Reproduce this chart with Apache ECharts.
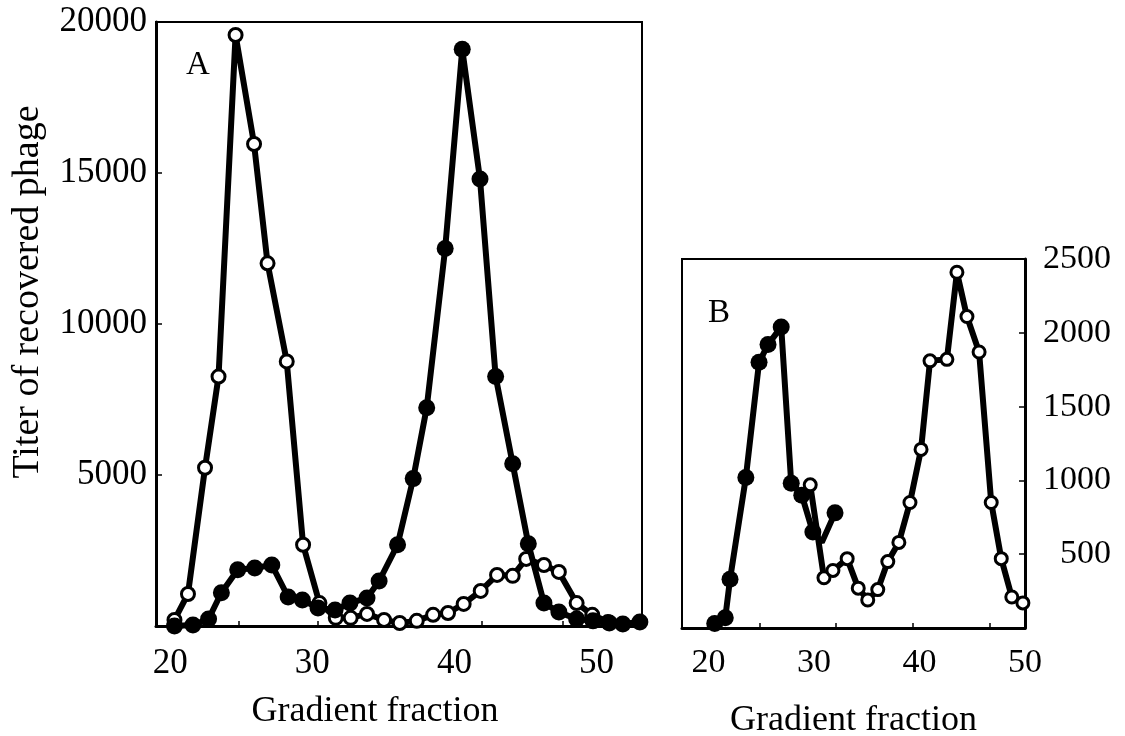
<!DOCTYPE html>
<html>
<head>
<meta charset="utf-8">
<script src="https://cdn.jsdelivr.net/npm/echarts@6/dist/echarts.min.js"></script>
<style>
html, body { margin: 0; padding: 0; background: #fff; }
#chart { width: 1125px; height: 736px; }
</style>
</head>
<body>
<div id="chart"></div>
<script>
// panel A: gradient fraction vs titer (open / filled circles)
const fracAOpen = [20.3, 21.25, 22.45, 23.4, 24.6, 25.9, 26.85, 28.2, 29.35, 30.5, 31.65, 32.7, 33.85, 35.05,
  36.15, 37.35, 38.5, 39.55, 40.65, 41.85, 43.0, 44.1, 45.05, 46.3, 47.35, 48.6, 49.7, 50.8];
const titerAOpen = [200, 1060, 5240, 8260, 19570, 15960, 12010, 8760, 2690, 760, 270, 270, 400, 200,
  100, 170, 370, 430, 730, 1160, 1690, 1660, 2220, 2020, 1790, 760, 370, 130];
const fracAFilled = [20.3, 21.6, 22.7, 23.6, 24.75, 25.95, 27.15, 28.3, 29.3, 30.4, 31.6, 32.65, 33.85, 34.7,
  36.0, 37.1, 38.05, 39.35, 40.55, 41.8, 42.9, 44.1, 45.2, 46.3, 47.35, 48.6, 49.75, 50.9, 51.85, 53.05];
const titerAFilled = [0, 30, 230, 1100, 1860, 1920, 2020, 960, 860, 600, 530, 760, 930, 1490,
  2690, 4880, 7230, 12500, 19100, 14800, 8260, 5370, 2720, 760, 460, 230, 170, 100, 70, 130];

// panel B
const fracBFilled = [20.6, 21.6, 22.05, 23.55, 24.8, 25.65, 26.9, 27.85, 28.85, 29.9, 30.75, 32.0];
const titerBFilled = [30, 70, 330, 1020, 1800, 1920, 2040, 980, 900, 650, 580, 780];
const bendB = 30.75; // corner of the filled line that has no marker
const fracBOpen = [29.65, 30.95, 31.8, 33.15, 34.2, 35.1, 36.05, 37.0, 38.05, 39.1, 40.15, 41.0, 42.6,
  43.55, 44.5, 45.65, 46.8, 47.75, 48.75, 49.8];
const titerBOpen = [970, 340, 390, 470, 270, 190, 260, 450, 580, 850, 1210, 1810, 1820,
  2410, 2110, 1870, 850, 470, 210, 170];

// axis labels / ticks
const xLabels = [20, 30, 40, 50];
const xTicksA = [24.8, 30.4, 36.2, 41.9, 47.6];
const xTicksB = [24.9, 32.1, 39.4, 46.7];
const yLabelsA = [5000, 10000, 15000, 20000];
const yLabelsB = [500, 1000, 1500, 2000, 2500];

const font = 'Liberation Serif';
const plain = v => String(v);

function pairs(xs, ys) {
  return xs.map((x, i) => [x, ys[i]]);
}

function openSeries(name, idx, xs, ys, size) {
  return {
    name: name, type: 'line', xAxisIndex: idx, yAxisIndex: idx,
    data: pairs(xs, ys), symbol: 'circle', symbolSize: size, showAllSymbol: true, clip: false,
    lineStyle: { color: '#000', width: 6 },
    itemStyle: { color: '#fff', borderColor: '#000', borderWidth: 3 },
    z: 2
  };
}

function filledSeries(name, idx, xs, ys, size) {
  return {
    name: name, type: 'line', xAxisIndex: idx, yAxisIndex: idx,
    data: pairs(xs, ys).map(p => p[0] === bendB && idx === 1 ? { value: p, symbol: 'none' } : p),
    symbol: 'circle', symbolSize: size, showAllSymbol: true, clip: false,
    lineStyle: { color: '#000', width: 6 },
    itemStyle: { color: '#000' },
    z: 3
  };
}

const chart = echarts.init(document.getElementById('chart'), null, { renderer: 'canvas' });

const option = {
  animation: false,
  backgroundColor: '#fff',
  title: [
    { text: 'A', left: 181, top: 44, textStyle: { fontFamily: font, fontWeight: 'normal', fontSize: 33, color: '#000' } },
    { text: 'B', left: 703, top: 292, textStyle: { fontFamily: font, fontWeight: 'normal', fontSize: 33, color: '#000' } }
  ],
  grid: [
    { left: 156, top: 22, width: 486, height: 604, show: true, borderColor: '#000', borderWidth: 2,
      containLabel: false, outerBoundsMode: 'none' },
    { left: 682, top: 259, width: 343, height: 369, show: true, borderColor: '#000', borderWidth: 2,
      containLabel: false, outerBoundsMode: 'none' }
  ],
  xAxis: [
    {
      type: 'value', gridIndex: 0, min: 19.0, max: 53.2,
      name: 'Gradient fraction', nameLocation: 'middle', nameGap: 68,
      nameTextStyle: { fontFamily: font, fontSize: 36, color: '#000', padding: [0, 48, 0, 0] },
      axisLine: { show: true, lineStyle: { color: '#000', width: 3 } },
      axisTick: { show: true, inside: true, length: 5, customValues: xTicksA, lineStyle: { color: '#000', width: 1.5 } },
      axisLabel: { customValues: xLabels, formatter: plain, margin: 20, fontFamily: font, fontSize: 35, color: '#000' },
      splitLine: { show: false }
    },
    {
      type: 'value', gridIndex: 1, min: 17.5, max: 50,
      name: 'Gradient fraction', nameLocation: 'middle', nameGap: 75,
      nameTextStyle: { fontFamily: font, fontSize: 36, color: '#000' },
      axisLine: { show: true, lineStyle: { color: '#000', width: 3 } },
      axisTick: { show: true, inside: true, length: 5, customValues: xTicksB, lineStyle: { color: '#000', width: 1.5 } },
      axisLabel: { customValues: xLabels, formatter: plain, margin: 18, fontFamily: font, fontSize: 34, color: '#000', showMaxLabel: true },
      splitLine: { show: false }
    }
  ],
  yAxis: [
    {
      type: 'value', gridIndex: 0, min: 0, max: 20000,
      name: 'Titer of recovered phage', nameLocation: 'middle', nameGap: 109, nameRotate: 90,
      nameTextStyle: { fontFamily: font, fontSize: 38, color: '#000', padding: [0, 0, 0, 64] },
      axisLine: { show: true, lineStyle: { color: '#000', width: 3 } },
      axisTick: { show: true, inside: true, length: 6, customValues: yLabelsA, lineStyle: { color: '#000', width: 1.5 } },
      axisLabel: { customValues: yLabelsA, formatter: plain, margin: 9, fontFamily: font, fontSize: 35, color: '#000' },
      splitLine: { show: false }
    },
    {
      type: 'value', gridIndex: 1, min: 0, max: 2500, position: 'right',
      axisLine: { show: true, lineStyle: { color: '#000', width: 3 } },
      axisTick: { show: true, inside: true, length: 6, customValues: yLabelsB, lineStyle: { color: '#000', width: 1.5 } },
      axisLabel: { customValues: yLabelsB, formatter: plain, margin: 86, align: 'right', fontFamily: font, fontSize: 34, color: '#000' },
      splitLine: { show: false }
    }
  ],
  series: [
    openSeries('A open', 0, fracAOpen, titerAOpen, 13),
    filledSeries('A filled', 0, fracAFilled, titerAFilled, 17),
    openSeries('B open', 1, fracBOpen, titerBOpen, 12),
    filledSeries('B filled', 1, fracBFilled, titerBFilled, 17)
  ]
};

chart.setOption(option);
</script>
</body>
</html>
